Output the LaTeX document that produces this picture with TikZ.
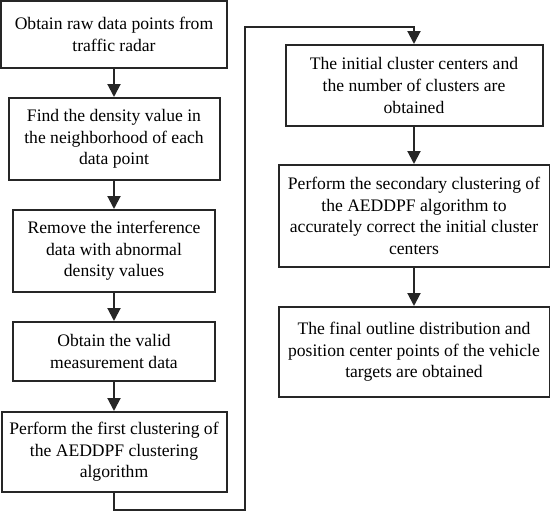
\documentclass[tikz,border=0pt]{standalone}
\usepackage{fontspec}
\setmainfont{Liberation Serif}
\usetikzlibrary{arrows.meta}
\begin{document}
\begin{tikzpicture}[x=1pt,y=-1pt,
  box/.style={draw=black!85,line width=2pt,align=center,inner sep=0pt,
    font=\fontsize{17.6}{21.6}\selectfont},
  arr/.style={line width=2pt,draw=black!85,-{Triangle[width=13pt,length=13pt]}}]
\useasboundingbox (0,0) rectangle (550,514);
\node[box,minimum width=226pt,minimum height=67pt] (b1) at (114,34.5) {Obtain raw data points from\\traffic radar};
\node[box,minimum width=211pt,minimum height=82pt] (b2) at (114,139) {Find the density value in\\the neighborhood of each\\data point};
\node[box,minimum width=202pt,minimum height=82pt] (b3) at (114,251) {Remove the interference\\data with abnormal\\density values};
\node[box,minimum width=202pt,minimum height=59pt] (b4) at (114,351.5) {Obtain the valid\\measurement data};
\node[box,minimum width=225pt,minimum height=80pt] (b5) at (114,452) {Perform the first clustering of\\the AEDDPF clustering\\algorithm};
\node[box,minimum width=257pt,minimum height=81pt] (b6) at (414,85.5) {The initial cluster centers and\\the number of clusters are\\obtained};
\node[box,minimum width=271pt,minimum height=102pt] (b7) at (414,216) {Perform the secondary clustering of\\the AEDDPF algorithm to\\accurately correct the initial cluster\\centers};
\node[box,minimum width=271pt,minimum height=90pt] (b8) at (414,352) {The final outline distribution and\\position center points of the vehicle\\targets are obtained};
\coordinate (c1) at (245,510);
\coordinate (c2) at (245,27);
\draw[arr] (b1) -- (b2);
\draw[arr] (b2) -- (b3);
\draw[arr] (b3) -- (b4);
\draw[arr] (b4) -- (b5);
\draw[arr] (b5.south) |- (c1) -- (c2) -| (b6.north);
\draw[arr] (b6) -- (b7);
\draw[arr] (b7) -- (b8);
\end{tikzpicture}
\end{document}
